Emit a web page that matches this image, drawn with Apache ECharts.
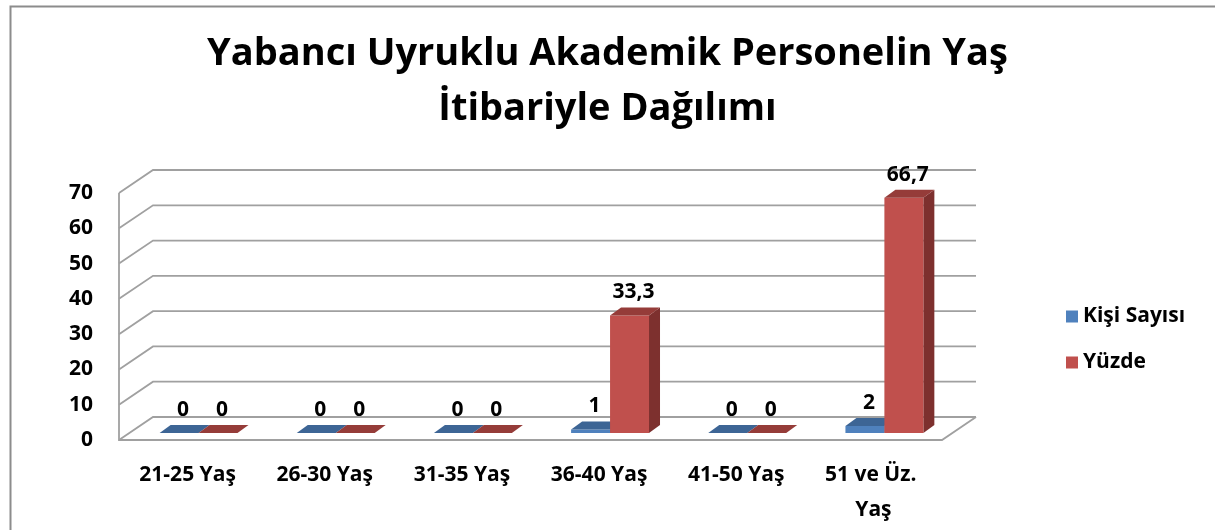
<!DOCTYPE html>
<html>
<head>
<meta charset="utf-8">
<script src="https://cdn.jsdelivr.net/npm/echarts@6/dist/echarts.min.js"></script>
<style>
  html, body { margin: 0; padding: 0; background: #fff; }
  #main { width: 1215px; height: 530px; }
</style>
</head>
<body>
<div id="main"></div>
<script>
var categories = ['21-25 Yaş', '26-30 Yaş', '31-35 Yaş', '36-40 Yaş', '41-50 Yaş', '51 ve Üz. Yaş'];
var kisiSayisi = [0, 0, 0, 1, 0, 2];
var yuzde = [0, 0, 0, 33.3, 0, 66.7];
var yTicks = [0, 10, 20, 30, 40, 50, 60, 70];

var FONT = '"Open Sans", sans-serif';
var WALL = [34, -23];      // depth of back wall
var BAR_D = [11, -8];      // depth of a bar
var BAR_W = 0.284;         // bar width, share of the category band
var BAR_BACK = 7;          // bars stand a bit behind the front edge

var dom = document.getElementById('main');
var myChart = echarts.init(dom, null, { renderer: 'canvas' });

function fmt(v) {
  return String(v).replace('.', ',');
}

// back wall, left wall and floor lines, one polyline per tick value
function renderWall(params, api) {
  var t = api.value(1);
  var bw = api.size([1, 0])[0];
  var p = api.coord([0, t]);
  var q = api.coord([categories.length - 1, t]);
  var left = p[0] - bw / 2;
  var right = q[0] + bw / 2;
  var y = p[1];
  var style = { stroke: '#a0a0a0', lineWidth: 1.8, fill: null };
  var children = [{
    type: 'polyline',
    shape: { points: [[left, y], [left + WALL[0], y + WALL[1]], [right + WALL[0], y + WALL[1]]] },
    style: style
  }];
  if (t === 0) {
    var top = api.coord([0, yTicks[yTicks.length - 1]]);
    children.push({
      type: 'polyline',
      shape: { points: [[left, top[1]], [left, y], [right, y], [right + WALL[0], y + WALL[1]]] },
      style: style
    });
  }
  return { type: 'group', children: children };
}

function barRenderer(offset, colors) {
  return function (params, api) {
    var i = api.value(0);
    var v = api.value(1);
    var bw = api.size([1, 0])[0];
    var base = api.coord([i, 0]);
    var top = api.coord([i, v]);
    var x0 = base[0] + offset * bw;
    var w = BAR_W * bw;
    var yb = base[1] - BAR_BACK;
    var yt = top[1] - BAR_BACK;
    var dx = BAR_D[0], dy = BAR_D[1];
    var children = [];
    if (yb - yt > 0.5) {
      children.push({
        type: 'polygon',
        shape: { points: [[x0 + w, yb], [x0 + w + dx, yb + dy], [x0 + w + dx, yt + dy], [x0 + w, yt]] },
        style: { fill: colors.side }
      });
      children.push({
        type: 'rect',
        shape: { x: x0, y: yt, width: w, height: yb - yt },
        style: { fill: colors.front }
      });
    }
    children.push({
      type: 'polygon',
      shape: { points: [[x0, yt], [x0 + w, yt], [x0 + w + dx, yt + dy], [x0 + dx, yt + dy]] },
      style: { fill: colors.top }
    });
    children.push({
      type: 'text',
      style: {
        text: fmt(v),
        x: x0 + w / 2 + 4,
        y: yt - 23,
        align: 'center',
        verticalAlign: 'middle',
        font: 'bold 21px ' + FONT,
        fill: '#000'
      }
    });
    return { type: 'group', children: children };
  };
}

var option = {
  backgroundColor: '#fff',
  animation: false,
  title: {
    text: 'Yabancı Uyruklu Akademik Personelin Yaş\nİtibariyle Dağılımı',
    left: 'center',
    top: 27,
    padding: [0, 0, 0, 14],
    textStyle: {
      fontFamily: FONT,
      fontWeight: 'bold',
      fontSize: 38,
      lineHeight: 55,
      color: '#000'
    }
  },
  graphic: [{
    type: 'rect',
    z: -10,
    shape: { x: 10.5, y: 6.5, width: 1400, height: 700 },
    style: { fill: null, stroke: '#8c8c8c', lineWidth: 2 }
  }],
  legend: {
    data: ['Kişi Sayısı', 'Yüzde'],
    orient: 'vertical',
    left: 1061,
    top: 301,
    icon: 'rect',
    itemWidth: 12,
    itemHeight: 12,
    itemGap: 25,
    textStyle: {
      fontFamily: FONT,
      fontWeight: 'bold',
      fontSize: 21,
      color: '#000'
    }
  },
  grid: {
    left: 119,
    right: 273,
    top: 193,
    bottom: 90,
    outerBoundsMode: 'none'
  },
  xAxis: {
    type: 'category',
    data: categories,
    axisLine: { show: false },
    axisTick: { show: false },
    axisLabel: {
      interval: 0,
      margin: 18,
      width: 115,
      overflow: 'break',
      lineHeight: 35,
      fontFamily: FONT,
      fontWeight: 'bold',
      fontSize: 21,
      color: '#000'
    }
  },
  yAxis: {
    type: 'value',
    min: 0,
    max: 70,
    interval: 10,
    axisLine: { show: false },
    axisTick: { show: false },
    splitLine: { show: false },
    axisLabel: {
      margin: 26,
      fontFamily: FONT,
      fontWeight: 'bold',
      fontSize: 21,
      color: '#000'
    }
  },
  series: [
    {
      type: 'custom',
      name: 'wall',
      z: 1,
      silent: true,
      renderItem: renderWall,
      data: yTicks.map(function (t) { return [0, t]; })
    },
    {
      type: 'custom',
      name: 'Kişi Sayısı',
      z: 2,
      itemStyle: { color: '#4f81bd' },
      renderItem: barRenderer(-0.204, { front: '#4f81bd', side: '#385d8a', top: '#3d6595' }),
      data: kisiSayisi.map(function (v, i) { return [i, v]; })
    },
    {
      type: 'custom',
      name: 'Yüzde',
      z: 3,
      itemStyle: { color: '#c0504d' },
      renderItem: barRenderer(0.08, { front: '#c0504d', side: '#7d302e', top: '#953c39' }),
      data: yuzde.map(function (v, i) { return [i, v]; })
    }
  ]
};

myChart.setOption(option);

window.addEventListener('resize', function () {
  myChart.resize();
});
</script>
</body>
</html>
